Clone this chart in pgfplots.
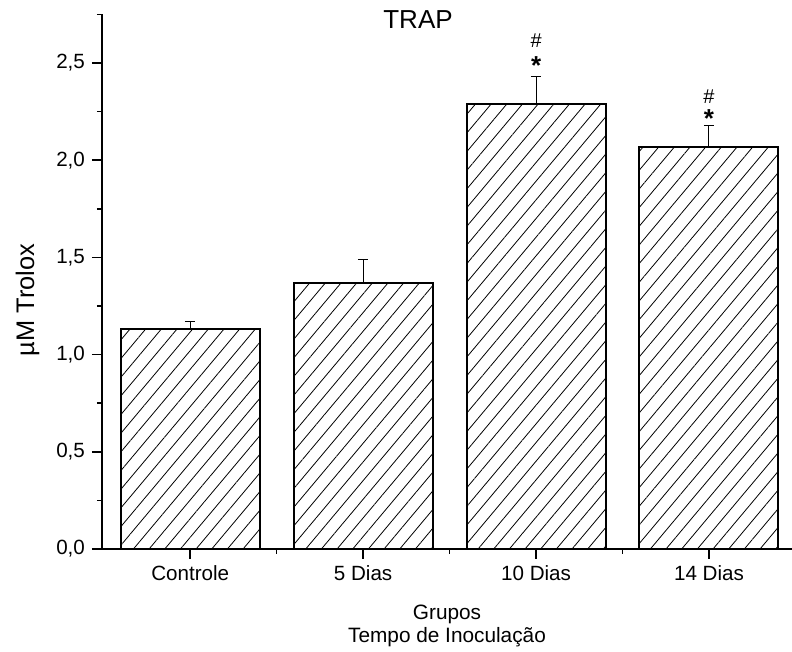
\documentclass[border=0pt]{standalone}
\usepackage{fontspec}
\setmainfont{Liberation Sans}
\usepackage{pgfplots}
\pgfplotsset{compat=1.18}
\usetikzlibrary{patterns.meta}
\pgfplotstableread{
x y e
0 1.13 0.04
1 1.37 0.12
2 2.29 0.14
3 2.07 0.11
}\bardata
\begin{document}
\begin{tikzpicture}
\begin{axis}[
  at={(0,0)}, anchor=south west,
  scale only axis, width=345pt, height=267.3pt,
  xmin=-0.51, xmax=3.48, ymin=0, ymax=2.75,
  axis x line=bottom, axis y line=left,
  axis line style={-, line width=1pt},
  tick align=outside,
  major tick length=5pt, minor tick length=2.5pt,
  every tick/.style={black, line width=0.8pt},
  xtick={0,1,2,3}, xticklabels={Controle,5 Dias,10 Dias,14 Dias},
  minor xtick={0.5,1.5,2.5},
  ytick={0,0.5,1,1.5,2,2.5},
  minor ytick={0.25,0.75,1.25,1.75,2.25,2.75},
  /pgf/number format/assume math mode=true,
  yticklabel style={/pgf/number format/.cd, fixed, fixed zerofill, precision=1, use comma},
  ticklabel style={font=\fontsize{10.3}{12}\selectfont},
  ylabel={µM Trolox},
  ylabel style={at={(axis description cs:-0.108,0.466)}, anchor=center, font=\fontsize{12.7}{15}\selectfont},
  xlabel={Grupos\\Tempo de Inoculação},
  xlabel style={at={(axis description cs:0.5,0)}, anchor=north, yshift=-24.5pt, align=center, font=\fontsize{10.4}{11.5}\selectfont},
  clip=false,
]
\addplot[ybar, bar width=69.5pt, draw=black, line width=1pt,
  pattern={Lines[angle=50,distance=6pt,line width=0.4pt]},
  error bars/.cd, y dir=plus, y explicit,
  error bar style={line width=0.5pt, black},
  error mark options={rotate=90, mark size=2.6pt, line width=0.5pt, black}]
  table[x=x, y=y, y error=e] {\bardata};
\node[font=\fontsize{13}{14}\selectfont\bfseries] at (axis cs:2,2.485) {*};
\node[font=\fontsize{10}{11}\selectfont] at (axis cs:2,2.615) {\#};
\node[font=\fontsize{13}{14}\selectfont\bfseries] at (axis cs:3,2.215) {*};
\node[font=\fontsize{10}{11}\selectfont] at (axis cs:3,2.325) {\#};
\node[font=\fontsize{13}{15}\selectfont] at (axis description cs:0.458,0.99) {TRAP};
\end{axis}
\pgfresetboundingbox
\path (-51pt,-51.5pt) rectangle (345pt,274.5pt);
\end{tikzpicture}
\end{document}
